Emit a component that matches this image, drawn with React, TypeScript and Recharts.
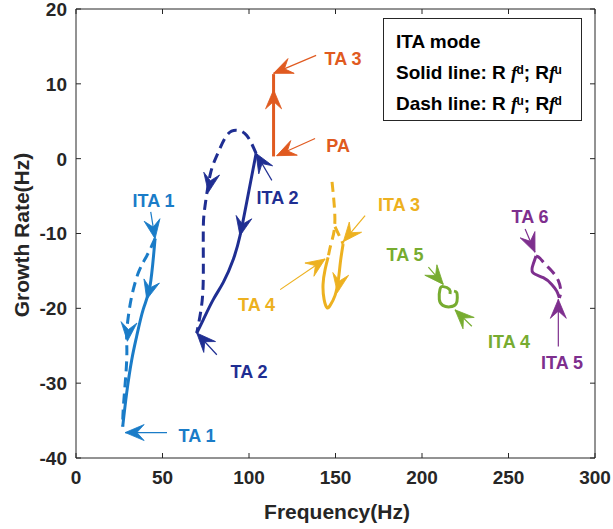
import React from 'react';
import { ComposedChart, Line, Scatter, XAxis, YAxis } from 'recharts';

// ---- layout ----
const W = 613;
const H = 529;
const PLOT_LEFT = 76;
const PLOT_RIGHT = 595;
const PLOT_TOP = 9;
const PLOT_BOTTOM = 458;
const PLOT_W = PLOT_RIGHT - PLOT_LEFT;
const PLOT_H = PLOT_BOTTOM - PLOT_TOP;

const X_DOMAIN: [number, number] = [0, 300];
const Y_DOMAIN: [number, number] = [-40, 20];
const xTicks = [0, 50, 100, 150, 200, 250, 300];
const yTicks = [-40, -30, -20, -10, 0, 10, 20];

const FONT = '"Liberation Sans", Arial, Helvetica, sans-serif';
const AXIS = '#262626';

const C = {
  lightBlue: '#1a7cc8',
  darkBlue: '#1f2e92',
  orange: '#e05a20',
  yellow: '#edb120',
  green: '#77ac30',
  purple: '#7e2f8e',
};

// ---- trajectories (frequency Hz, growth rate Hz) ----
const ita1Solid = [
  { x: 45.7, y: -10.7 }, { x: 42.8, y: -17.0 }, { x: 38.9, y: -20.1 }, { x: 35.1, y: -23.7 },
  { x: 32.2, y: -26.9 }, { x: 29.3, y: -31.3 }, { x: 27.0, y: -35.8 },
];
const ita1Dash = [
  { x: 45.7, y: -10.7 }, { x: 40.9, y: -13.0 }, { x: 36.1, y: -15.2 }, { x: 32.2, y: -18.4 },
  { x: 30.3, y: -21.0 }, { x: 29.3, y: -23.3 }, { x: 29.4, y: -25.5 }, { x: 28.9, y: -28.6 },
  { x: 27.4, y: -33.1 }, { x: 27.0, y: -35.8 },
];
const ita2Solid = [
  { x: 104.1, y: 0.7 }, { x: 98.7, y: -5.8 }, { x: 94.8, y: -10.3 }, { x: 91.0, y: -13.4 },
  { x: 85.2, y: -16.5 }, { x: 79.4, y: -18.8 }, { x: 73.6, y: -21.5 }, { x: 69.8, y: -23.3 },
];
const ita2Dash = [
  { x: 104.1, y: 0.7 }, { x: 98.7, y: 3.1 }, { x: 92.9, y: 3.8 }, { x: 87.1, y: 3.1 },
  { x: 81.4, y: 0.4 }, { x: 77.5, y: -2.2 }, { x: 74.6, y: -6.3 }, { x: 73.6, y: -9.0 },
  { x: 73.6, y: -13.4 }, { x: 73.3, y: -17.9 }, { x: 71.7, y: -21.0 }, { x: 69.8, y: -23.3 },
];
const paSolid = [{ x: 114.2, y: 0.3 }, { x: 114.2, y: 11.3 }];
const ita3Solid = [
  { x: 154.4, y: -11.4 }, { x: 152.9, y: -13.7 }, { x: 151.7, y: -16.1 }, { x: 149.7, y: -18.3 },
  { x: 146.9, y: -19.6 }, { x: 145.1, y: -19.9 }, { x: 143.4, y: -18.8 }, { x: 142.8, y: -16.8 },
  { x: 144.0, y: -14.8 }, { x: 145.7, y: -13.2 },
];
const ita3DashUpper = [
  { x: 148.0, y: -3.1 }, { x: 149.2, y: -6.0 }, { x: 149.5, y: -9.1 }, { x: 147.4, y: -11.4 },
  { x: 145.7, y: -13.2 },
];
const ita3DashBranch = [{ x: 149.7, y: -9.1 }, { x: 152.6, y: -10.5 }, { x: 154.4, y: -11.4 }];
const ita4Solid = [
  { x: 216.2, y: -18.1 }, { x: 215.8, y: -17.45 }, { x: 212.3, y: -17.1 }, { x: 210.4, y: -17.45 },
  { x: 210.0, y: -18.8 }, { x: 212.0, y: -19.6 }, { x: 216.2, y: -19.8 }, { x: 219.7, y: -19.4 },
  { x: 220.4, y: -18.6 }, { x: 220.1, y: -17.9 }, { x: 218.5, y: -17.7 },
];
const ita5Solid = [
  { x: 265.9, y: -13.0 }, { x: 264.4, y: -14.0 }, { x: 264.0, y: -15.2 }, { x: 270.1, y: -15.9 },
  { x: 275.0, y: -16.8 }, { x: 277.9, y: -17.7 }, { x: 279.4, y: -18.6 },
];
const ita5Dash = [
  { x: 265.9, y: -13.0 }, { x: 268.2, y: -13.3 }, { x: 271.1, y: -14.1 }, { x: 275.0, y: -15.0 },
  { x: 278.8, y: -16.3 }, { x: 280.2, y: -17.7 }, { x: 279.4, y: -18.6 },
];

const traces = [
  { id: 'ita1s', data: ita1Solid, color: C.lightBlue, dash: false },
  { id: 'ita1d', data: ita1Dash, color: C.lightBlue, dash: true },
  { id: 'ita2s', data: ita2Solid, color: C.darkBlue, dash: false },
  { id: 'ita2d', data: ita2Dash, color: C.darkBlue, dash: true },
  { id: 'pa', data: paSolid, color: C.orange, dash: false },
  { id: 'ita3s', data: ita3Solid, color: C.yellow, dash: false },
  { id: 'ita3d', data: ita3DashUpper, color: C.yellow, dash: true },
  { id: 'ita3b', data: ita3DashBranch, color: C.yellow, dash: true },
  { id: 'ita4s', data: ita4Solid, color: C.green, dash: false },
  { id: 'ita5s', data: ita5Solid, color: C.purple, dash: false },
  { id: 'ita5d', data: ita5Dash, color: C.purple, dash: true },
];

// direction arrows drawn on the trajectories (angle in screen degrees)
const flowArrows = [
  { x: 40.9, y: -18.8, angle: 105, color: C.lightBlue },
  { x: 29.7, y: -24.4, angle: 95, color: C.lightBlue },
  { x: 76.5, y: -4.5, angle: 100, color: C.darkBlue },
  { x: 94.8, y: -10.3, angle: 102, color: C.darkBlue },
  { x: 114.2, y: 9.2, angle: -90, color: C.orange },
  { x: 151.1, y: -17.9, angle: 100, color: C.yellow },
];

// point annotations: label, label centre, pointer tail and tip
const annotations = [
  { label: 'ITA 1', lx: 44.8, ly: -5.6, tx: 43.2, ty: -7.1, hx: 45.7, hy: -10.7, color: C.lightBlue },
  { label: 'TA 1', lx: 70.0, ly: -37.0, tx: 52.6, ty: -36.6, hx: 28.4, hy: -36.6, color: C.lightBlue },
  { label: 'TA 2', lx: 100.0, ly: -28.5, tx: 81.4, ty: -26.2, hx: 69.8, hy: -23.3, color: C.darkBlue },
  { label: 'ITA 2', lx: 116.5, ly: -5.2, tx: 113.2, ty: -2.9, hx: 104.1, hy: 0.7, color: C.darkBlue },
  { label: 'TA 3', lx: 154.4, ly: 13.4, tx: 138.8, ty: 13.8, hx: 114.2, hy: 11.4, color: C.orange },
  { label: 'PA', lx: 151.5, ly: 1.7, tx: 138.2, ty: 2.7, hx: 116.0, hy: 0.4, color: C.orange },
  { label: 'ITA 3', lx: 186.7, ly: -6.1, tx: 167.1, ty: -7.6, hx: 154.5, hy: -11.1, color: C.yellow },
  { label: 'TA 4', lx: 104.4, ly: -19.5, tx: 118.0, ty: -17.5, hx: 144.0, hy: -13.4, color: C.yellow },
  { label: 'TA 5', lx: 190.2, ly: -12.8, tx: 203.7, ty: -14.5, hx: 212.3, hy: -16.8, color: C.green },
  { label: 'ITA 4', lx: 250.3, ly: -24.4, tx: 228.8, ty: -22.4, hx: 219.1, hy: -20.2, color: C.green },
  { label: 'TA 6', lx: 262.5, ly: -7.7, tx: 259.6, ty: -9.4, hx: 265.3, hy: -12.5, color: C.purple },
  { label: 'ITA 5', lx: 281.0, ly: -27.3, tx: 278.8, ty: -25.1, hx: 278.8, hy: -18.8, color: C.purple },
];

const pxPerX = PLOT_W / (X_DOMAIN[1] - X_DOMAIN[0]);
const pxPerY = PLOT_H / (Y_DOMAIN[1] - Y_DOMAIN[0]);

const pointerHeads = annotations.map((a) => ({
  x: a.hx,
  y: a.hy,
  color: a.color,
  angle: (Math.atan2(-(a.hy - a.ty) * pxPerY, (a.hx - a.tx) * pxPerX) * 180) / Math.PI,
}));
const labelPoints = annotations.map((a) => ({ x: a.lx, y: a.ly, label: a.label, color: a.color }));

// ---- custom shapes ----
const ArrowHead = (props: any) => {
  const { cx, cy, payload } = props;
  if (cx == null || cy == null) return null;
  const L = 19;
  const hw = 8;
  return (
    <path
      d={`M0,0 L${-L},${-hw} L${-L * 0.62},0 L${-L},${hw} Z`}
      transform={`translate(${cx},${cy}) rotate(${payload.angle})`}
      fill={payload.color}
      stroke={payload.color}
      strokeWidth={0.8}
      strokeLinejoin="round"
    />
  );
};

const LabelText = (props: any) => {
  const { cx, cy, payload } = props;
  if (cx == null || cy == null) return null;
  return (
    <text
      x={cx}
      y={cy}
      dy="0.36em"
      textAnchor="middle"
      fill={payload.color}
      fontFamily={FONT}
      fontWeight="bold"
      fontSize={18}
    >
      {payload.label}
    </text>
  );
};

const TICK_LEN = 5;
const tickText = { fontFamily: FONT, fontWeight: 'bold' as const, fontSize: 19, fill: AXIS };

const BottomTick = ({ x, y, payload }: any) => (
  <g>
    <line x1={x} x2={x} y1={y} y2={y - TICK_LEN} stroke={AXIS} />
    <text x={x} y={y + 26} textAnchor="middle" {...tickText}>{payload.value}</text>
  </g>
);
const TopTick = ({ x, y }: any) => (
  <line x1={x} x2={x} y1={y} y2={y + TICK_LEN} stroke={AXIS} />
);
const LeftTick = ({ x, y, payload }: any) => (
  <g>
    <line x1={x} x2={x + TICK_LEN} y1={y} y2={y} stroke={AXIS} />
    <text x={x - 9} y={y} dy="0.36em" textAnchor="end" {...tickText}>{payload.value}</text>
  </g>
);
const RightTick = ({ x, y }: any) => (
  <line x1={x} x2={x - TICK_LEN} y1={y} y2={y} stroke={AXIS} />
);

const Rf = ({ sup, space }: { sup: string; space?: boolean }) => (
  <span>
    R{space ? ' ' : ''}
    <i style={{ fontFamily: '"Liberation Serif", "Times New Roman", serif', fontWeight: 'bold' }}>f</i>
    <sup style={{ fontSize: 12, verticalAlign: 'top', position: 'relative', top: -2, marginLeft: -1 }}>{sup}</sup>
  </span>
);

export default function App() {
  return (
    <div style={{ position: 'absolute', left: 0, top: 0, width: W, height: H, background: '#fff' }}>
      <ComposedChart width={W} height={H} margin={{ top: 0, right: 0, bottom: 0, left: 0 }}>
        <XAxis
          dataKey="x"
          type="number"
          domain={X_DOMAIN}
          ticks={xTicks}
          allowDataOverflow
          height={H - PLOT_BOTTOM}
          tickSize={0}
          tickMargin={0}
          tickLine={false}
          axisLine={{ stroke: AXIS }}
          tick={<BottomTick />}
          interval={0}
        />
        <XAxis
          xAxisId="top"
          orientation="top"
          dataKey="x"
          type="number"
          domain={X_DOMAIN}
          ticks={xTicks}
          allowDataOverflow
          height={PLOT_TOP}
          tickSize={0}
          tickMargin={0}
          tickLine={false}
          axisLine={{ stroke: AXIS }}
          tick={<TopTick />}
          interval={0}
        />
        <YAxis
          dataKey="y"
          type="number"
          domain={Y_DOMAIN}
          ticks={yTicks}
          allowDataOverflow
          width={PLOT_LEFT}
          tickSize={0}
          tickMargin={0}
          tickLine={false}
          axisLine={{ stroke: AXIS }}
          tick={<LeftTick />}
          interval={0}
        />
        <YAxis
          yAxisId="right"
          orientation="right"
          dataKey="y"
          type="number"
          domain={Y_DOMAIN}
          ticks={yTicks}
          allowDataOverflow
          width={W - PLOT_RIGHT}
          tickSize={0}
          tickMargin={0}
          tickLine={false}
          axisLine={{ stroke: AXIS }}
          tick={<RightTick />}
          interval={0}
        />

        {traces.map((t) => (
          <Line
            key={t.id}
            data={t.data}
            dataKey="y"
            type="natural"
            stroke={t.color}
            strokeWidth={3}
            strokeDasharray={t.dash ? '10 6' : undefined}
            dot={false}
            activeDot={false}
            isAnimationActive={false}
          />
        ))}

        {annotations.map((a) => (
          <Line
            key={`ptr-${a.label}`}
            data={[{ x: a.tx, y: a.ty }, { x: a.hx, y: a.hy }]}
            dataKey="y"
            type="linear"
            stroke={a.color}
            strokeWidth={1.2}
            dot={false}
            activeDot={false}
            isAnimationActive={false}
          />
        ))}

        <Scatter data={flowArrows} dataKey="y" shape={<ArrowHead />} isAnimationActive={false} />
        <Scatter data={pointerHeads} dataKey="y" shape={<ArrowHead />} isAnimationActive={false} />
        <Scatter data={labelPoints} dataKey="y" shape={<LabelText />} isAnimationActive={false} />
      </ComposedChart>

      {/* axis titles */}
      <div
        style={{
          position: 'absolute', left: 237, top: 499, width: 200, height: 26, lineHeight: '26px',
          textAlign: 'center', fontFamily: FONT, fontWeight: 'bold', fontSize: 21, color: AXIS,
        }}
      >
        Frequency(Hz)
      </div>
      <div
        style={{
          position: 'absolute', left: 22 - 100, top: 235 - 13, width: 200, height: 26, lineHeight: '26px',
          textAlign: 'center', fontFamily: FONT, fontWeight: 'bold', fontSize: 21, color: AXIS,
          transform: 'rotate(-90deg)', transformOrigin: '50% 50%',
        }}
      >
        Growth Rate(Hz)
      </div>

      {/* mode note */}
      <div
        style={{
          position: 'absolute', left: 383, top: 18, width: 199, height: 103, boxSizing: 'border-box',
          border: `1px solid ${AXIS}`, background: '#fff', paddingLeft: 12, paddingTop: 7,
          fontFamily: FONT, fontWeight: 'bold', fontSize: 19, color: '#000', lineHeight: '31px',
          whiteSpace: 'nowrap',
        }}
      >
        <div>ITA mode</div>
        <div>Solid line: <Rf sup="d" space />; <Rf sup="u" /></div>
        <div>Dash line: <Rf sup="u" space />; <Rf sup="d" /></div>
      </div>
    </div>
  );
}
